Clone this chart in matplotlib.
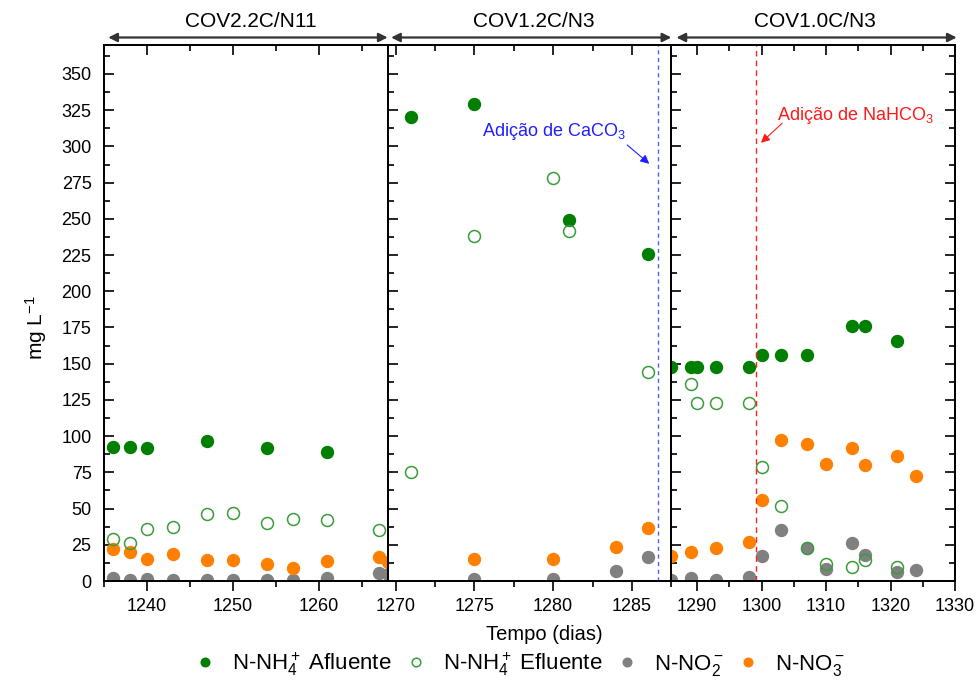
import matplotlib
matplotlib.use('Agg')
import matplotlib.pyplot as plt
from matplotlib.ticker import MultipleLocator

plt.rcParams['font.family'] = ['Liberation Sans', 'DejaVu Sans']
plt.rcParams['mathtext.fontset'] = 'custom'
plt.rcParams['mathtext.rm'] = 'Liberation Sans'
plt.rcParams['mathtext.it'] = 'Liberation Sans:italic'
plt.rcParams['mathtext.bf'] = 'Liberation Sans:bold'

# --- fase COV2.2C/N11 ---
p1_dias_af = [1236, 1238, 1240, 1247, 1254, 1261]
p1_af = [92.5, 92.5, 91.5, 96.5, 91.5, 89]
p1_dias_ef = [1236, 1238, 1240, 1243, 1247, 1250, 1254, 1257, 1261, 1267]
p1_ef = [29, 26.5, 36, 37.5, 46.5, 47, 40, 43, 42, 35]
p1_dias_n = [1236, 1238, 1240, 1243, 1247, 1250, 1254, 1257, 1261, 1267, 1268]
p1_no2 = [2, 0.5, 1.5, 0.5, 0.5, 0.5, 1, 1, 2, 5.5, 4.5]
p1_no3 = [22, 20, 15.5, 18.5, 14.5, 14.5, 12, 9, 13.5, 16.5, 13]

# --- fase COV1.2C/N3 ---
p2_dias_af = [1271, 1275, 1281, 1286]
p2_af = [320, 329, 249, 226]
p2_dias_ef = [1271, 1275, 1280, 1281, 1286]
p2_ef = [75, 238, 278, 241.5, 144.5]
p2_dias_n = [1275, 1280, 1284, 1286]
p2_no2 = [1.5, 1.5, 7, 16.5]
p2_no3 = [15, 15, 23.5, 36.5]

# --- fase COV1.0C/N3 ---
p3_dias_af = [1286, 1289, 1290, 1293, 1298, 1300, 1303, 1307, 1314, 1316, 1321]
p3_af = [147.5, 147.5, 147.5, 147.5, 147.5, 156, 156, 156, 176, 176, 165.5]
p3_dias_ef = [1289, 1290, 1293, 1298, 1300, 1303, 1307, 1310, 1314, 1316, 1321]
p3_ef = [136, 123, 123, 123, 78.5, 51.5, 22.5, 12, 10, 14.5, 10]
p3_dias_n = [1286, 1289, 1293, 1298, 1300, 1303, 1307, 1310, 1314, 1316, 1321, 1324]
p3_no2 = [1, 2, 1, 2.5, 17, 35, 23, 8, 26.5, 18, 6.5, 7.5]
p3_no3 = [17, 20, 22.5, 27, 56, 97, 94.5, 81, 92, 80, 86, 72.5]

fases = ['COV2.2C/N11', 'COV1.2C/N3', 'COV1.0C/N3']
xlims = [(1235, 1268), (1269.5, 1287.5), (1286, 1330)]
x_major = [10, 5, 10]
dia_caco3 = 1286.65
dia_nahco3 = 1299.2

cor_af = '#007f00'
cor_ef = '#3a9c3a'
cor_no2 = '#808080'
cor_no3 = '#ff8000'

dados = [
    (p1_dias_af, p1_af, p1_dias_ef, p1_ef, p1_dias_n, p1_no2, p1_no3),
    (p2_dias_af, p2_af, p2_dias_ef, p2_ef, p2_dias_n, p2_no2, p2_no3),
    (p3_dias_af, p3_af, p3_dias_ef, p3_ef, p3_dias_n, p3_no2, p3_no3),
]

fig = plt.figure(figsize=(9.8, 6.86), dpi=100)
left, right = 104 / 980, 955 / 980
bottom, top = (686 - 581) / 686, (686 - 45) / 686
w = (right - left) / 3

axes = []
for i in range(3):
    ax = fig.add_axes([left + i * w, bottom, w, top - bottom])
    axes.append(ax)
    d_af, v_af, d_ef, v_ef, d_n, v_no2, v_no3 = dados[i]
    ms = 8.6
    l_no2, = ax.plot(d_n, v_no2, 'o', color=cor_no2, ms=ms, mec=cor_no2, ls='none')
    l_no3, = ax.plot(d_n, v_no3, 'o', color=cor_no3, ms=ms, mec=cor_no3, ls='none')
    l_af, = ax.plot(d_af, v_af, 'o', color=cor_af, ms=ms, mec=cor_af, ls='none')
    l_ef, = ax.plot(d_ef, v_ef, 'o', mfc='none', mec=cor_ef, ms=ms, mew=1.1, ls='none')
    if i == 0:
        handles = [l_af, l_ef, l_no2, l_no3]

    ax.set_xlim(*xlims[i])
    ax.set_ylim(0, 370)
    ax.xaxis.set_major_locator(MultipleLocator(x_major[i]))
    ax.xaxis.set_minor_locator(MultipleLocator(x_major[i] / 2))
    ax.yaxis.set_major_locator(MultipleLocator(25))
    ax.yaxis.set_minor_locator(MultipleLocator(12.5))
    ax.tick_params(axis='x', which='major', direction='out', length=7.5, width=1.2,
                   labelsize=13, pad=5)
    ax.tick_params(axis='x', which='minor', direction='out', length=4, width=1.2)
    ax.tick_params(axis='y', which='major', direction='in', length=7, width=1.2,
                   labelsize=13, pad=9, right=(i == 2), labelleft=(i == 0))
    ax.tick_params(axis='y', which='minor', direction='in', length=4, width=1.2,
                   right=(i == 2))
    for s in ax.spines.values():
        s.set_linewidth(1.3)

    # ticks superiores voltados para dentro
    axt = ax.twiny()
    axt.set_xlim(*xlims[i])
    axt.xaxis.set_major_locator(MultipleLocator(x_major[i]))
    axt.xaxis.set_minor_locator(MultipleLocator(x_major[i] / 2))
    axt.tick_params(axis='x', which='major', direction='in', length=7, width=1.2,
                    labeltop=False)
    axt.tick_params(axis='x', which='minor', direction='in', length=4, width=1.2)
    for s in axt.spines.values():
        s.set_linewidth(1.3)

# setas e nomes das fases acima dos paineis
seta_x = [(0.015, 1.0), (0.012, 1.0), (0.018, 1.006)]
titulo_x = [0.518, 0.514, 0.506]
for ax, nome, (x0, x1), tx in zip(axes, fases, seta_x, titulo_x):
    ax.annotate('', xy=(x1, 1.014), xytext=(x0, 1.014), xycoords='axes fraction',
                textcoords='axes fraction', annotation_clip=False,
                arrowprops=dict(arrowstyle='<|-|>', color='#333333', lw=1.6,
                                mutation_scale=13, shrinkA=0, shrinkB=0))
    ax.text(tx, 1.043, nome, transform=ax.transAxes, ha='center', va='center',
            fontsize=15)

# adicao de CaCO3 e NaHCO3
ax2, ax3 = axes[1], axes[2]
ax2.axvline(dia_caco3, color='#5a5aff', lw=1.0, ls=(0, (3, 2.5)))
ax2.text(1275.5, 307, 'Adição de CaCO$_3$', color='#1f1fff', fontsize=13,
         ha='left', va='baseline')
ax2.annotate('', xy=(1286.1, 288), xytext=(1284.7, 301),
             arrowprops=dict(arrowstyle='-|>', color='#1f1fff', lw=0.8,
                             mutation_scale=13, shrinkA=0, shrinkB=0))
ax3.axvline(dia_nahco3, color='#ff2020', lw=1.0, ls=(0, (4, 3)))
ax3.text(1302.4, 318.5, 'Adição de NaHCO$_3$', color='#ff1a1a', fontsize=13,
         ha='left', va='baseline')
ax3.annotate('', xy=(1299.9, 302.5), xytext=(1303.2, 316),
             arrowprops=dict(arrowstyle='-|>', color='#ff1a1a', lw=0.8,
                             mutation_scale=13, shrinkA=0, shrinkB=0))

fig.text(544 / 980, (686 - 634) / 686, 'Tempo (dias)', ha='center', va='center',
         fontsize=14.5)
fig.text(36 / 980, (686 - 328) / 686, 'mg L$^{-1}$', rotation=90, ha='center',
         va='center', fontsize=15)

labels = ['N-NH$_4^+$ Afluente', 'N-NH$_4^+$ Efluente', 'N-NO$_2^-$', 'N-NO$_3^-$']
fig.legend(handles, labels, loc='center', bbox_to_anchor=(0.53, 0.032), ncol=4,
           frameon=False, fontsize=16, handlelength=1.0, handletextpad=0.7,
           columnspacing=0.6, markerscale=0.72)

fig.savefig('out.png', dpi=100)
